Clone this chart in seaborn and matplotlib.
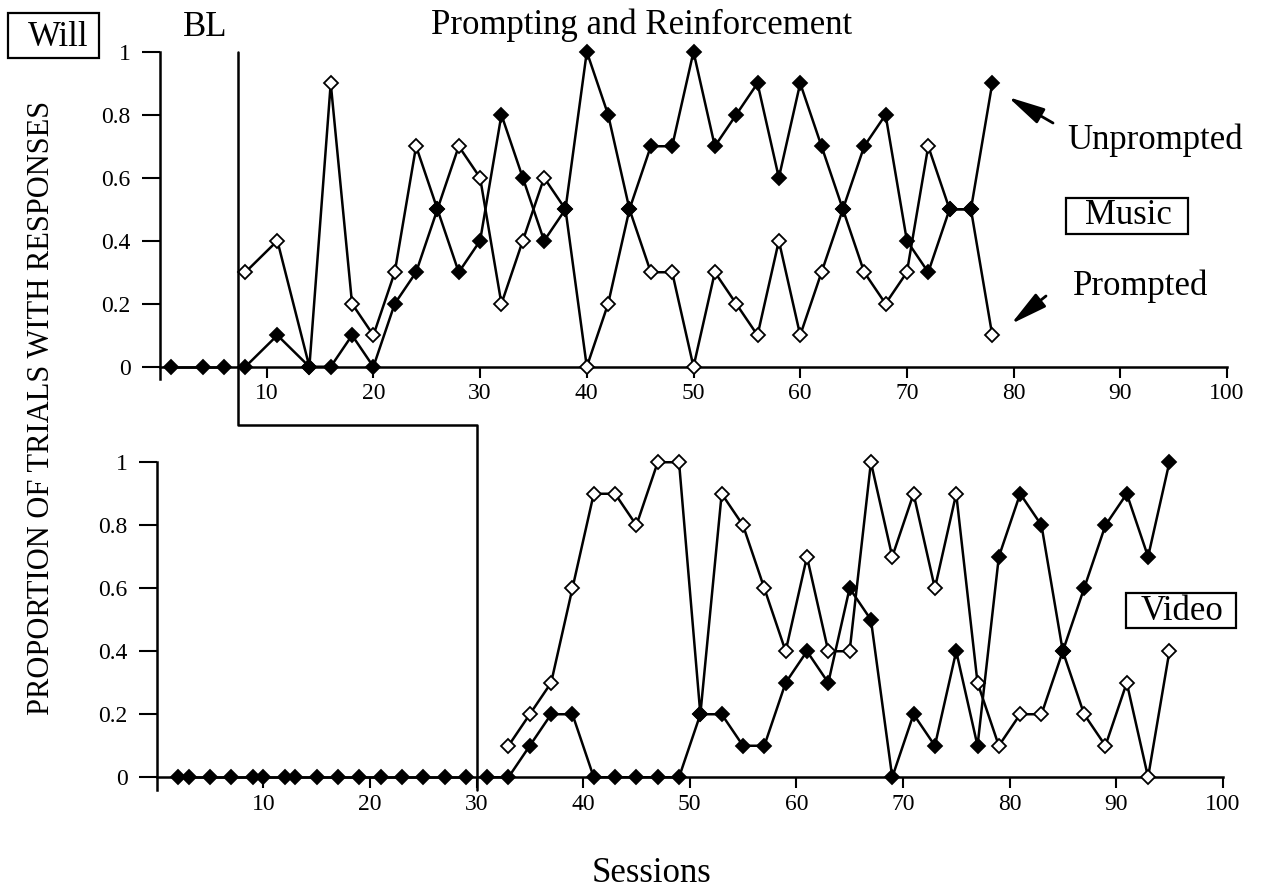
import numpy as np
import pandas as pd
import seaborn as sns
import matplotlib.pyplot as plt
from matplotlib.lines import Line2D
from matplotlib.patches import Rectangle

# ---- data (proportion of trials) ----
# Music condition
music_bl_sessions = [1, 4, 6]
music_bl_unprompted = [0, 0, 0]
music_sessions = [8, 11, 14, 16, 18, 20, 22, 24, 26, 28, 30, 32, 34, 36, 38, 40, 42, 44,
                  46, 48, 50, 52, 54, 56, 58, 60, 62, 64, 66, 68, 70, 72, 74, 76, 78]
music_unprompted = [0, 0.1, 0, 0, 0.1, 0, 0.2, 0.3, 0.5, 0.3, 0.4, 0.8, 0.6, 0.4, 0.5, 1.0, 0.8, 0.5,
                    0.7, 0.7, 1.0, 0.7, 0.8, 0.9, 0.6, 0.9, 0.7, 0.5, 0.7, 0.8, 0.4, 0.3, 0.5, 0.5, 0.9]
music_prompted = [0.3, 0.4, 0, 0.9, 0.2, 0.1, 0.3, 0.7, 0.5, 0.7, 0.6, 0.2, 0.4, 0.6, 0.5, 0, 0.2, 0.5,
                  0.3, 0.3, 0, 0.3, 0.2, 0.1, 0.4, 0.1, 0.3, 0.5, 0.3, 0.2, 0.3, 0.7, 0.5, 0.5, 0.1]

# Video condition
video_bl_sessions = [2, 3, 5, 7, 9, 10, 12, 13, 15, 17, 19, 21, 23, 25, 27, 29]
video_bl_unprompted = [0] * 16
video_sessions = [31, 33, 35, 37, 39, 41, 43, 45, 47, 49, 51, 53, 55, 57, 59, 61, 63,
                  65, 67, 69, 71, 73, 75, 77, 79, 81, 83, 85, 87, 89, 91, 93, 95]
video_unprompted = [0, 0, 0.1, 0.2, 0.2, 0, 0, 0, 0, 0, 0.2, 0.2, 0.1, 0.1, 0.3, 0.4, 0.3,
                    0.6, 0.5, 0, 0.2, 0.1, 0.4, 0.1, 0.7, 0.9, 0.8, 0.4, 0.6, 0.8, 0.9, 0.7, 1.0]
video_prompted_sessions = video_sessions[1:]
video_prompted = [0.1, 0.2, 0.3, 0.6, 0.9, 0.9, 0.8, 1.0, 1.0, 0.2, 0.9, 0.8, 0.6, 0.4, 0.7, 0.4,
                  0.4, 1.0, 0.7, 0.9, 0.6, 0.9, 0.3, 0.1, 0.2, 0.2, 0.4, 0.2, 0.1, 0.3, 0, 0.4]

phase_music = 7.3
phase_video = 30

x_ticks = [10, 20, 30, 40, 50, 60, 70, 80, 90, 100]
y_ticks = [0, 0.2, 0.4, 0.6, 0.8, 1]
y_ticklabels = ["0", "0.2", "0.4", "0.6", "0.8", "1"]

sns.set_theme(style="white")
plt.rcParams['font.family'] = ['Liberation Serif', 'DejaVu Serif']
plt.rcParams['text.color'] = 'black'

W, H = 1269, 893
fig = plt.figure(figsize=(W / 100, H / 100), dpi=100)


def box(l, r, t, b):
    return [l / W, 1 - b / H, (r - l) / W, (b - t) / H]


def fx(px):
    return px / W


def fy(py):
    return 1 - py / H


ax1 = fig.add_axes(box(160, 1227, 36, 382.5))
ax2 = fig.add_axes(box(156.7, 1222.7, 446.5, 793))

filled = dict(color="black", linewidth=1.8, marker="D", markersize=6.8,
              markerfacecolor="black", markeredgecolor="black", markeredgewidth=1.3)
hollow = dict(color="black", linewidth=1.8, marker="D", markersize=6.8,
              markerfacecolor="white", markeredgecolor="black", markeredgewidth=1.3)


def panel(ax, bl_x, bl_y, tx_x, tx_y, pr_x, pr_y):
    sns.lineplot(x=pr_x, y=pr_y, ax=ax, zorder=3, clip_on=False, **hollow)
    sns.lineplot(x=bl_x, y=bl_y, ax=ax, zorder=4, clip_on=False, **filled)
    sns.lineplot(x=tx_x, y=tx_y, ax=ax, zorder=4, clip_on=False, **filled)
    ax.set_xlim(0, 100)
    ax.set_ylim(-0.05, 1.05)
    ax.set_xticks(x_ticks)
    ax.set_yticks(y_ticks)
    ax.set_yticklabels(y_ticklabels)
    ax.set_xlabel("")
    ax.set_ylabel("")
    for s in ["top", "right"]:
        ax.spines[s].set_visible(False)
    ax.spines["left"].set_bounds(-0.04, 1)
    ax.spines["bottom"].set_position(("data", 0))
    ax.spines["bottom"].set_bounds(0, 100)
    for s in ["left", "bottom"]:
        ax.spines[s].set_linewidth(1.8)
        ax.spines[s].set_color("black")
    ax.tick_params(axis="y", direction="out", length=13, width=1.5, pad=8,
                   labelsize=17, left=True, colors="black")
    ax.tick_params(axis="x", direction="out", length=8, width=1.5, pad=4,
                   labelsize=17, bottom=True, colors="black")
    ax.set_facecolor("none")


panel(ax1, music_bl_sessions, music_bl_unprompted, music_sessions, music_unprompted,
      music_sessions, music_prompted)
panel(ax2, video_bl_sessions, video_bl_unprompted, video_sessions, video_unprompted,
      video_prompted_sessions, video_prompted)

# phase change lines (stepped across the two panels)
inv = fig.transFigure.inverted()
p_top = inv.transform(ax1.transData.transform((phase_music, 1.0)))
p_mid = inv.transform(ax2.transData.transform((phase_video, 1.118)))
p_bot = inv.transform(ax2.transData.transform((phase_video, -0.04)))
xs = [p_top[0], p_top[0], p_mid[0], p_mid[0]]
ys = [p_top[1], p_mid[1], p_mid[1], p_bot[1]]
fig.add_artist(Line2D(xs, ys, transform=fig.transFigure, color="black", lw=1.8))

# text
big = 25
fig.text(fx(642), fy(25), "Prompting and Reinforcement", ha="center", va="center", fontsize=big)
fig.text(fx(205), fy(28), "BL", ha="center", va="center", fontsize=big)
fig.text(fx(58), fy(37), "Will", ha="center", va="center", fontsize=big)
fig.add_artist(Rectangle((fx(8), fy(58)), fx(91), (45 / H), transform=fig.transFigure,
                         fill=False, ec="black", lw=1.6))
fig.text(fx(1155), fy(140), "Unprompted", ha="center", va="center", fontsize=big)
fig.text(fx(1141), fy(286), "Prompted", ha="center", va="center", fontsize=big)
fig.text(fx(1128), fy(216), "Music", ha="center", va="center", fontsize=big)
fig.add_artist(Rectangle((fx(1066), fy(234)), fx(122), (36 / H), transform=fig.transFigure,
                         fill=False, ec="black", lw=1.6))
fig.text(fx(1182), fy(611), "Video", ha="center", va="center", fontsize=big)
fig.add_artist(Rectangle((fx(1126), fy(628)), fx(110), (35 / H), transform=fig.transFigure,
                         fill=False, ec="black", lw=1.6))
fig.text(fx(651), fy(874), "Sessions", ha="center", va="center", fontsize=big)
fig.text(fx(42), fy(408), "PROPORTION OF TRIALS WITH RESPONSES", ha="center", va="center",
         rotation=90, fontsize=22)

arrow = dict(arrowstyle="-|>,head_length=1.4,head_width=0.32", color="black", lw=2,
             mutation_scale=16, shrinkA=0, shrinkB=0)
ax1.annotate("", xy=(fx(1008), fy(97)), xycoords="figure fraction",
             xytext=(fx(1053), fy(123)), textcoords="figure fraction",
             arrowprops=arrow, annotation_clip=False)
ax1.annotate("", xy=(fx(1011), fy(324)), xycoords="figure fraction",
             xytext=(fx(1046), fy(296)), textcoords="figure fraction",
             arrowprops=arrow, annotation_clip=False)

plt.savefig("out.png", dpi=100, facecolor="white")
